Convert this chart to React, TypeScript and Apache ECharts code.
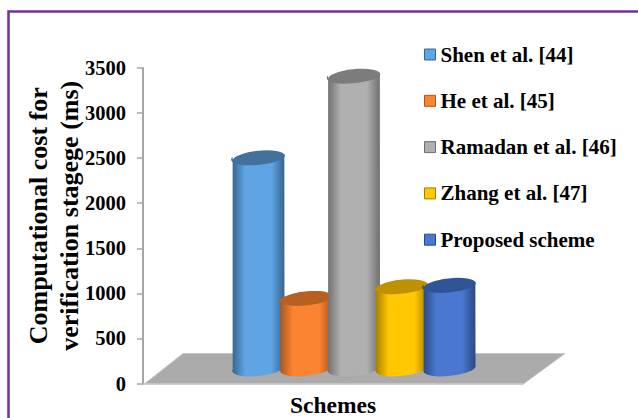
import React, { useEffect, useRef } from "react";
import * as echarts from "echarts";

const schemeNames = [
  "Shen et al. [44]",
  "He et al. [45]",
  "Ramadan et al. [46]",
  "Zhang et al. [47]",
  "Proposed scheme",
];
const costValues = [2330, 770, 3235, 900, 915];
const bodyColors = ["#5fa5e6", "#fb8433", "#b0b0b0", "#ffc800", "#4a78d0"];
const edgeColors = ["#36658f", "#a9551d", "#6f6f6f", "#a67c00", "#2a4a82"];
const capColors = ["#41719c", "#b85f22", "#7c7c7c", "#bf9000", "#2f5597"];
const categoryLabels = ["Schemes"];
const yTicks = { min: 0, max: 3500, interval: 500 };

const SERIF = '"Liberation Serif", "Times New Roman", serif';
const DEPTH_X = 21;
const DEPTH_Y = 16.5;
const STEP = 47.75;
const RX = 26;
const RY = 7.5;
const TILT = -6;

// Point on a tilted ellipse at its left or right extreme.
function side(cx: number, cy: number, sign: number) {
  const t = (TILT * Math.PI) / 180;
  return [cx + sign * RX * Math.cos(t), cy + sign * RX * Math.sin(t)];
}

function cylinder(i: number) {
  return (_: any, api: any) => {
    const [bandX, topY] = api.coord([api.value(0), api.value(1)]);
    const [, baseY] = api.coord([api.value(0), 0]);
    const cx = bandX + DEPTH_X + (i - 2) * STEP;
    const top = topY - DEPTH_Y;
    const base = baseY - DEPTH_Y;
    const [lx, ly] = side(cx, top, -1);
    const [rx, ry] = side(cx, top, 1);
    const [blx, bly] = side(cx, base, -1);
    const [brx, bry] = side(cx, base, 1);
    const body =
      `M${lx} ${ly} L${blx} ${bly} ` +
      `A${RX} ${RY} ${TILT} 0 0 ${brx} ${bry} ` +
      `L${rx} ${ry} A${RX} ${RY} ${TILT} 0 1 ${lx} ${ly} Z`;
    const cap =
      `M${lx} ${ly} A${RX} ${RY} ${TILT} 0 1 ${rx} ${ry} ` +
      `A${RX} ${RY} ${TILT} 0 1 ${lx} ${ly} Z`;
    const shade = new echarts.graphic.LinearGradient(0, 0, 1, 0, [
      { offset: 0, color: edgeColors[i] },
      { offset: 0.25, color: bodyColors[i] },
      { offset: 0.75, color: bodyColors[i] },
      { offset: 1, color: edgeColors[i] },
    ]);
    return {
      type: "group",
      children: [
        { type: "path", shape: { pathData: body, layout: "none" }, style: { fill: shade } },
        { type: "path", shape: { pathData: cap, layout: "none" }, style: { fill: capColors[i] } },
      ],
    };
  };
}

function floor(_: any, api: any) {
  const [cx, y0] = api.coord([0, 0]);
  const half = api.size([1, 0])[0] / 2;
  const left = cx - half;
  const right = cx + half;
  return {
    type: "polygon",
    shape: {
      points: [
        [left + 2, y0],
        [left + 40, y0 - 30],
        [right + 42, y0 - 30],
        [right + 1, y0],
      ],
    },
    style: { fill: "#ababab", stroke: "#c4c4c4", lineWidth: 1 },
  };
}

export default function App() {
  const ref = useRef<HTMLDivElement>(null);

  useEffect(() => {
    document.body.style.margin = "0";
    const chart = echarts.init(ref.current!, null, { renderer: "svg" });
    chart.setOption({
      animation: false,
      backgroundColor: "#ffffff",
      grid: { left: 143, right: 115, top: 68, bottom: 34.5, outerBoundsMode: "none" },
      graphic: [
        {
          type: "rect",
          shape: { x: 8.5, y: 11.5, width: 640, height: 420 },
          style: { fill: "none", stroke: "#7030a0", lineWidth: 2.5 },
          z: -1,
        },
      ],
      legend: {
        orient: "vertical",
        left: 424,
        top: 44,
        padding: 0,
        itemWidth: 11,
        itemHeight: 11,
        itemGap: 25.3,
        selectedMode: false,
        data: schemeNames.map((name, i) => ({
          name,
          icon: "rect",
          itemStyle: { color: bodyColors[i], borderColor: edgeColors[i], borderWidth: 1 },
        })),
        textStyle: {
          fontFamily: SERIF,
          fontWeight: "bold",
          fontSize: 21,
          color: "#000",
        },
      },
      xAxis: {
        type: "category",
        data: categoryLabels,
        axisLine: { show: true, lineStyle: { color: "#bdbdbd", width: 1.5 } },
        axisTick: { show: false },
        axisLabel: {
          fontFamily: SERIF,
          fontWeight: "bold",
          fontSize: 23.5,
          color: "#000",
          margin: 9,
        },
      },
      yAxis: {
        type: "value",
        ...yTicks,
        name: "Computational cost for\nverification stagege (ms)",
        nameLocation: "middle",
        nameRotate: 90,
        nameGap: 58,
        nameMoveOverlap: false,
        nameTextStyle: {
          fontFamily: SERIF,
          fontWeight: "bold",
          fontSize: 26,
          lineHeight: 31,
          color: "#000",
          padding: [0, 0, 0, 20],
        },
        splitLine: { show: false },
        axisLine: { show: true, lineStyle: { color: "#a6a6a6", width: 2 } },
        axisTick: { show: true, length: 6, lineStyle: { color: "#a6a6a6", width: 1.5 } },
        axisLabel: {
          fontFamily: SERIF,
          fontWeight: "bold",
          fontSize: 20.5,
          color: "#000",
          margin: 17,
          formatter: (v: number) => String(v),
        },
      },
      series: [
        {
          type: "custom",
          name: "floor",
          renderItem: floor,
          data: [[0, 0]],
          silent: true,
          z: 1,
        },
        ...schemeNames.map((name, i) => ({
          type: "custom",
          name,
          renderItem: cylinder(i),
          encode: { x: 0, y: 1 },
          data: [[0, costValues[i]]],
          itemStyle: { color: bodyColors[i] },
          z: 2 + i,
        })),
      ],
    });
    return () => chart.dispose();
  }, []);

  return <div ref={ref} style={{ width: 638, height: 418 }} />;
}
